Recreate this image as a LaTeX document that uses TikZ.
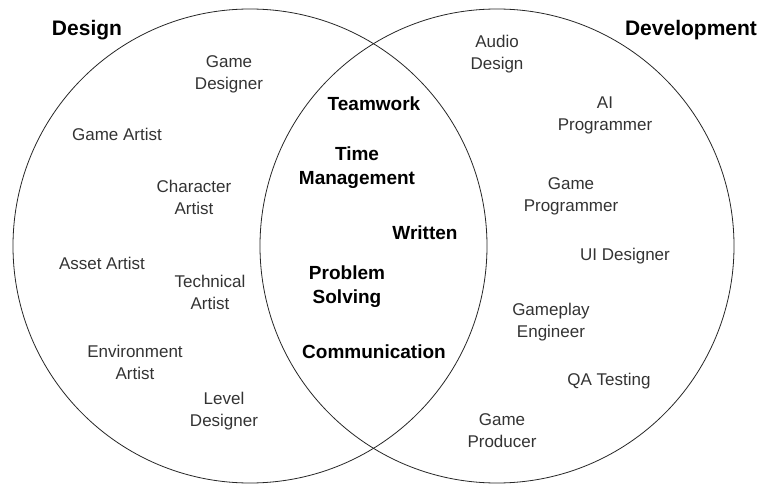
\documentclass[tikz,border=0pt]{standalone}
\usepackage{fontspec}
\setmainfont{Liberation Sans}
\definecolor{rolegray}{HTML}{333333}
\tikzset{
  role/.style={align=center,text=rolegray,font=\fontsize{17}{22}\selectfont},
  skill/.style={align=center,font=\fontsize{19}{24}\selectfont\bfseries},
  title/.style={font=\fontsize{21}{25}\selectfont\bfseries},
  field/.style={circle,draw=black!85,line width=0.8pt,minimum size=474pt,inner sep=0pt}
}
\begin{document}
\begin{tikzpicture}[x=1pt,y=-1pt]
        \useasboundingbox (0,0) rectangle (761,484);
        \node[field] (design) at (250,246) {};
        \node[field] (develop) at (497,246) {};
        \node[title] (designlbl) at (87,30) {Design};
        \node[title] (developlbl) at (691,30) {Development};
        % design roles
        \node[role] (gamedes) at (229,74) {Game\\Designer};
        \node[role] (gameart) at (117,134) {Game Artist};
        \node[role] (charart) at (194,197) {Character\\Artist};
        \node[role] (assetart) at (102,263) {Asset Artist};
        \node[role] (techart) at (210,292) {Technical\\Artist};
        \node[role] (envart) at (135,362) {Environment\\Artist};
        \node[role] (leveldes) at (224,411) {Level\\Designer};
        % shared skills
        \node[skill] (teamwork) at (374,104) {Teamwork};
        \node[skill] (timemgmt) at (357,168) {Time\\Management};
        \node[skill] (written) at (425,233) {Written};
        \node[skill] (problem) at (347,287) {Problem\\Solving};
        \node[skill] (comm) at (374,352) {Communication};
        % development roles
        \node[role] (audio) at (497,54) {Audio\\Design};
        \node[role] (aiprog) at (605,115) {AI\\Programmer};
        \node[role] (gameprog) at (571,196) {Game\\Programmer};
        \node[role] (uides) at (625,256) {UI Designer};
        \node[role] (gameplay) at (551,322) {Gameplay\\Engineer};
        \node[role] (qa) at (609,381) {QA Testing};
        \node[role] (producer) at (502,431) {Game\\Producer};
    \end{tikzpicture}
\end{document}
